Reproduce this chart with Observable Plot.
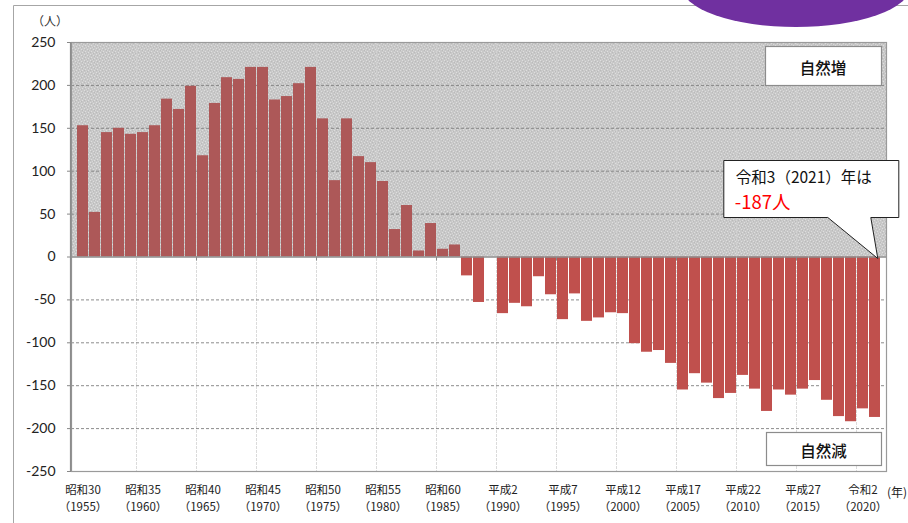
<!DOCTYPE html>
<html>
<head>
<meta charset="utf-8">
<script src="https://cdn.jsdelivr.net/npm/d3@7"></script>
<script src="https://cdn.jsdelivr.net/npm/@observablehq/plot@0.6"></script>
<style>
  body { margin: 0; background: #fff; }
  #chart svg { display: block; overflow: visible; }
</style>
</head>
<body>
<div id="chart"></div>
<script>
const years = [1955,1956,1957,1958,1959,1960,1961,1962,1963,1964,1965,1966,1967,1968,1969,1970,1971,1972,1973,1974,1975,1976,1977,1978,1979,1980,1981,1982,1983,1984,1985,1986,1987,1988,1989,1990,1991,1992,1993,1994,1995,1996,1997,1998,1999,2000,2001,2002,2003,2004,2005,2006,2007,2008,2009,2010,2011,2012,2013,2014,2015,2016,2017,2018,2019,2020,2021];
const values = [153,52,145,150,143,145,153,184,172,199,118,179,209,207,221,221,183,187,202,221,161,89,161,117,110,88,32,60,7,39,9,14,-22,-53,0,-66,-54,-58,-23,-44,-73,-43,-75,-71,-65,-66,-101,-111,-109,-124,-155,-136,-147,-165,-159,-138,-154,-180,-155,-161,-154,-144,-167,-186,-192,-177,-187];
const tickYears = [1955,1960,1965,1970,1975,1980,1985,1990,1995,2000,2005,2010,2015,2020];
const tickEras = ["昭和30","昭和35","昭和40","昭和45","昭和50","昭和55","昭和60","平成2","平成7","平成12","平成17","平成22","平成27","令和2"];
const yTicks = [-250,-200,-150,-100,-50,0,50,100,150,200,250];
const gridValues = [-200,-150,-100,-50,50,100,150,200];
const boxUpText = "自然増";
const boxDownText = "自然減";
const calloutLine1 = "令和3（2021）年は";
const calloutLine2 = "-187人";
const calloutYear = 2021;
const unitLabel = "（人）";
const yearLabel = "(年)";

const jpFont = "'Noto Sans CJK JP', 'Noto Sans', sans-serif";
const numFont = "Lato, 'Noto Sans CJK JP', sans-serif";

const data = years.map((year, i) => ({year, value: values[i]}));
const eraOf = new Map(tickYears.map((y, i) => [y, tickEras[i]]));

function background(index, scales, vals, dim) {
  const x = scales.x, y = scales.y;
  const step = x.step(), pad = (step - x.bandwidth()) / 2;
  const left = dim.marginLeft, right = dim.width - dim.marginRight;
  const top = dim.marginTop, bottom = dim.height - dim.marginBottom;
  const g = d3.create("svg:g");
  const defs = g.append("defs");
  const p = defs.append("pattern").attr("id", "tex").attr("width", 6).attr("height", 6).attr("patternUnits", "userSpaceOnUse");
  p.append("rect").attr("width", 6).attr("height", 6).attr("fill", "#c8c8c8");
  const specks = [[0,0,"#dedede"],[3,1,"#dedede"],[1,3,"#dedede"],[4,4,"#dedede"],[5,2,"#d6d6d6"],[2,5,"#d6d6d6"],
                  [1,1,"#bababa"],[4,2,"#bababa"],[0,4,"#bababa"],[3,5,"#bababa"]];
  specks.forEach(([px, py, c]) =>
    p.append("rect").attr("x", px).attr("y", py).attr("width", 1).attr("height", 1).attr("fill", c));
  // textured positive half
  g.append("rect").attr("x", left).attr("y", y(250)).attr("width", right - left)
    .attr("height", y(0) - y(250)).attr("fill", "url(#tex)");
  // vertical gridlines at 5-year boundaries
  tickYears.slice(1).forEach(yr => {
    const xx = x(yr) - pad;
    g.append("line").attr("x1", xx).attr("x2", xx).attr("y1", top).attr("y2", bottom)
      .attr("stroke", "#d2d2d2").attr("stroke-width", 0.8).attr("stroke-dasharray", "3,1");
  });
  // small ticks under the zero line every 10 years
  tickYears.filter((yr, i) => i % 2 === 0 && i > 0).forEach(yr => {
    const xx = x(yr) - pad;
    g.append("line").attr("x1", xx).attr("x2", xx).attr("y1", y(0)).attr("y2", y(0) + 4)
      .attr("stroke", "#888").attr("stroke-width", 1);
  });
  return g.node();
}

function annotations(index, scales, vals, dim) {
  const x = scales.x, y = scales.y;
  const left = dim.marginLeft, right = dim.width - dim.marginRight;
  const top = dim.marginTop, bottom = dim.height - dim.marginBottom;
  const g = d3.create("svg:g").attr("font-family", jpFont);

  // left axis line
  g.append("line").attr("x1", left - 0.3).attr("x2", left - 0.3).attr("y1", top).attr("y2", bottom)
    .attr("stroke", "#8c8c8c").attr("stroke-width", 1.6);

  // outer frame
  g.append("path").attr("d", `M13.5,${dim.height}V5.5H${dim.width}`).attr("fill", "none")
    .attr("stroke", "#a6a6a6").attr("stroke-width", 1);
  // purple shape at top right
  g.append("ellipse").attr("cx", 796).attr("cy", -13).attr("rx", 114).attr("ry", 40).attr("fill", "#7030a0");

  // unit label
  g.append("text").attr("x", left - 21).attr("y", top - 22).attr("text-anchor", "middle")
    .attr("dominant-baseline", "central").attr("font-size", 12).attr("fill", "#333").text(unitLabel);
  // year label
  g.append("text").attr("x", right + 11).attr("y", bottom + 20).attr("text-anchor", "middle")
    .attr("dominant-baseline", "central").attr("font-size", 12).attr("fill", "#222").text(yearLabel);

  function box(bx, by, bw, bh, label) {
    g.append("rect").attr("x", bx + 0.5).attr("y", by + 0.5).attr("width", bw).attr("height", bh)
      .attr("fill", "#fff").attr("stroke", "#8c8c8c").attr("stroke-width", 1.2);
    g.append("text").attr("x", bx + bw / 2).attr("y", by + bh / 2 + 1).attr("text-anchor", "middle")
      .attr("dominant-baseline", "central").attr("font-size", 15.5).attr("font-weight", 500)
      .attr("fill", "#111").text(label);
  }
  box(right - 121, top + 4, 116, 39, boxUpText);
  box(right - 120, bottom - 39, 115, 33, boxDownText);

  // callout
  const tipX = x(calloutYear) + x.bandwidth() * 0.8, tipY = y(0) + 2;
  const rx = tipX - 154, rw = 175, ry = y(0) - 96, rh = 57;
  g.append("path")
    .attr("d", `M${rx},${ry}H${rx + rw}V${ry + rh}H${tipX - 7}L${tipX},${tipY}L${tipX - 50},${ry + rh}H${rx}Z`)
    .attr("fill", "#fff").attr("stroke", "#222").attr("stroke-width", 1);
  g.append("text").attr("x", rx + 12).attr("y", ry + 22).attr("text-anchor", "start")
    .attr("font-size", 15.5).attr("fill", "#111").text(calloutLine1);
  g.append("text").attr("x", rx + 11).attr("y", ry + 48).attr("text-anchor", "start")
    .attr("font-size", 18.5).attr("fill", "#ff0000").text(calloutLine2);
  return g.node();
}

const chart = Plot.plot({
  width: 908,
  height: 523,
  marginLeft: 71,
  marginRight: 22,
  marginTop: 42,
  marginBottom: 52,
  style: {background: "#fff", overflow: "visible"},
  x: {domain: years, padding: 0.1, axis: null, label: null},
  y: {domain: [-250, 250], axis: null, label: null},
  marks: [
    background,
    Plot.ruleY(gridValues, {stroke: "#7f7f7f", strokeWidth: 0.9, strokeDasharray: "3,2"}),
    Plot.barY(data, {x: "year", y: "value", fill: d => d.value > 0 ? "#ad5858" : "#c0504d", inset: 0}),
    Plot.ruleY([0], {stroke: "#8c8c8c", strokeWidth: 1.5}),
    Plot.frame({stroke: "#9a9a9a", strokeWidth: 1.2}),
    Plot.axisY({ticks: yTicks, tickSize: 4, tickPadding: 12, fontSize: 14, fontFamily: numFont,
      stroke: "#888", color: "#222", label: null, tickFormat: d => String(d)}),
    Plot.axisX({ticks: tickYears, tickSize: 0, tickPadding: 11, fontSize: 11.5, fontFamily: jpFont,
      lineHeight: 1.46, color: "#222", label: null, tickFormat: d => eraOf.get(d) + "\n（" + d + "）"}),
    annotations
  ]
});

document.getElementById("chart").append(chart);
</script>
</body>
</html>
